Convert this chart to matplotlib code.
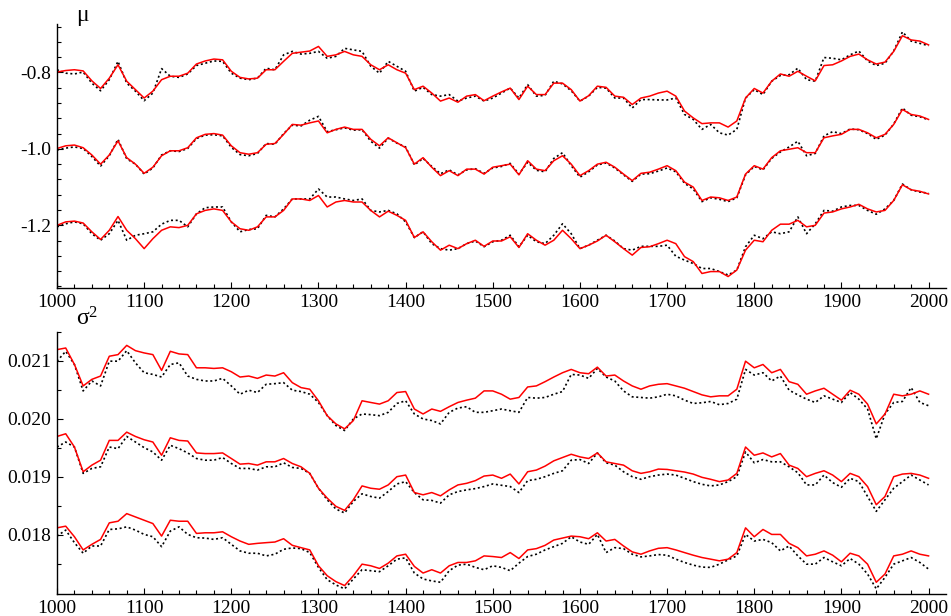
import numpy as np
import matplotlib
matplotlib.use("Agg")
import matplotlib.pyplot as plt
from matplotlib.ticker import MultipleLocator, FixedLocator, FormatStrFormatter

plt.rcParams['font.family'] = ['Liberation Serif', 'DejaVu Serif']
plt.rcParams['mathtext.fontset'] = 'custom'
plt.rcParams['mathtext.rm'] = 'Liberation Serif'
plt.rcParams['mathtext.it'] = 'Liberation Serif'
plt.rcParams['mathtext.default'] = 'regular'
plt.rcParams['axes.unicode_minus'] = False

# time index (every 10 steps)
t = list(range(1000, 2001, 10))

# mu estimates: red = solid estimate, black = dotted reference, three levels
mu_red_1 = [-0.799, -0.795, -0.793, -0.796, -0.822, -0.842, -0.815, -0.780, -0.823, -0.845,
            -0.867, -0.849, -0.819, -0.810, -0.810, -0.802, -0.778, -0.770, -0.765, -0.767,
            -0.797, -0.813, -0.817, -0.815, -0.793, -0.793, -0.771, -0.750, -0.747, -0.744,
            -0.732, -0.758, -0.754, -0.745, -0.754, -0.758, -0.780, -0.793, -0.780, -0.793,
            -0.802, -0.845, -0.836, -0.854, -0.875, -0.867, -0.878, -0.862, -0.858, -0.874,
            -0.862, -0.851, -0.841, -0.871, -0.836, -0.858, -0.858, -0.828, -0.828, -0.845,
            -0.875, -0.861, -0.836, -0.839, -0.862, -0.865, -0.884, -0.867, -0.862, -0.854,
            -0.849, -0.862, -0.901, -0.919, -0.934, -0.932, -0.932, -0.943, -0.927, -0.867,
            -0.842, -0.854, -0.823, -0.804, -0.810, -0.797, -0.810, -0.822, -0.782, -0.780,
            -0.770, -0.758, -0.752, -0.767, -0.778, -0.773, -0.745, -0.704, -0.715, -0.718,
            -0.728]
mu_black_1 = [-0.793, -0.802, -0.804, -0.799, -0.828, -0.848, -0.819, -0.771, -0.828, -0.849,
              -0.874, -0.854, -0.790, -0.810, -0.813, -0.804, -0.782, -0.776, -0.770, -0.771,
              -0.802, -0.815, -0.819, -0.815, -0.789, -0.793, -0.754, -0.745, -0.752, -0.750,
              -0.745, -0.763, -0.758, -0.737, -0.741, -0.745, -0.784, -0.802, -0.771, -0.784,
              -0.797, -0.849, -0.839, -0.858, -0.862, -0.858, -0.875, -0.867, -0.862, -0.875,
              -0.867, -0.854, -0.841, -0.867, -0.832, -0.862, -0.860, -0.823, -0.830, -0.848,
              -0.875, -0.862, -0.839, -0.841, -0.867, -0.867, -0.893, -0.871, -0.871, -0.872,
              -0.872, -0.867, -0.910, -0.923, -0.949, -0.936, -0.958, -0.964, -0.949, -0.867,
              -0.845, -0.858, -0.823, -0.808, -0.806, -0.789, -0.819, -0.823, -0.761, -0.763,
              -0.767, -0.754, -0.744, -0.770, -0.782, -0.776, -0.744, -0.694, -0.718, -0.724,
              -0.730]
mu_red_2 = [-0.999, -0.992, -0.990, -0.997, -1.016, -1.040, -1.016, -0.979, -1.023, -1.040,
            -1.064, -1.048, -1.018, -1.005, -1.005, -0.997, -0.971, -0.962, -0.960, -0.964,
            -0.992, -1.010, -1.014, -1.010, -0.988, -0.986, -0.962, -0.936, -0.938, -0.932,
            -0.927, -0.958, -0.949, -0.943, -0.949, -0.949, -0.975, -0.992, -0.971, -0.984,
            -0.997, -1.040, -1.023, -1.048, -1.070, -1.057, -1.070, -1.053, -1.053, -1.066,
            -1.048, -1.044, -1.040, -1.068, -1.031, -1.053, -1.057, -1.031, -1.018, -1.040,
            -1.070, -1.057, -1.040, -1.035, -1.048, -1.066, -1.083, -1.064, -1.061, -1.053,
            -1.044, -1.057, -1.087, -1.100, -1.135, -1.126, -1.128, -1.135, -1.126, -1.066,
            -1.044, -1.053, -1.023, -1.005, -1.001, -0.997, -1.010, -1.010, -0.971, -0.966,
            -0.962, -0.949, -0.949, -0.958, -0.971, -0.962, -0.936, -0.897, -0.910, -0.914,
            -0.923]
mu_black_2 = [-1.003, -0.998, -0.995, -0.999, -1.020, -1.045, -1.018, -0.975, -1.026, -1.040,
              -1.066, -1.050, -1.016, -1.005, -1.007, -0.999, -0.973, -0.964, -0.963, -0.966,
              -0.996, -1.015, -1.018, -1.012, -0.986, -0.988, -0.960, -0.938, -0.940, -0.925,
              -0.915, -0.955, -0.950, -0.945, -0.951, -0.950, -0.980, -0.998, -0.972, -0.985,
              -0.995, -1.042, -1.025, -1.046, -1.065, -1.055, -1.068, -1.055, -1.052, -1.064,
              -1.050, -1.046, -1.038, -1.066, -1.035, -1.056, -1.060, -1.025, -1.010, -1.044,
              -1.074, -1.060, -1.042, -1.037, -1.050, -1.068, -1.085, -1.066, -1.065, -1.058,
              -1.050, -1.060, -1.090, -1.105, -1.138, -1.128, -1.132, -1.138, -1.128, -1.068,
              -1.046, -1.055, -1.025, -1.008, -0.995, -0.980, -1.018, -1.012, -0.966, -0.955,
              -0.960, -0.948, -0.950, -0.960, -0.975, -0.964, -0.935, -0.893, -0.912, -0.916,
              -0.924]
mu_red_3 = [-1.200, -1.191, -1.189, -1.194, -1.217, -1.237, -1.213, -1.177, -1.213, -1.235,
            -1.261, -1.235, -1.213, -1.204, -1.206, -1.200, -1.170, -1.161, -1.157, -1.161,
            -1.191, -1.209, -1.213, -1.204, -1.178, -1.178, -1.161, -1.131, -1.131, -1.135,
            -1.122, -1.152, -1.139, -1.135, -1.139, -1.139, -1.161, -1.178, -1.163, -1.174,
            -1.187, -1.232, -1.217, -1.243, -1.265, -1.252, -1.261, -1.248, -1.239, -1.255,
            -1.241, -1.241, -1.230, -1.258, -1.222, -1.239, -1.252, -1.239, -1.213, -1.235,
            -1.261, -1.252, -1.241, -1.226, -1.243, -1.261, -1.278, -1.258, -1.256, -1.248,
            -1.239, -1.248, -1.282, -1.295, -1.326, -1.321, -1.321, -1.334, -1.317, -1.265,
            -1.239, -1.243, -1.213, -1.197, -1.197, -1.187, -1.204, -1.200, -1.168, -1.165,
            -1.157, -1.152, -1.145, -1.157, -1.165, -1.161, -1.135, -1.094, -1.107, -1.111,
            -1.118]
mu_black_3 = [-1.204, -1.196, -1.191, -1.196, -1.222, -1.239, -1.222, -1.187, -1.239, -1.226,
              -1.222, -1.217, -1.197, -1.187, -1.187, -1.204, -1.170, -1.154, -1.152, -1.152,
              -1.191, -1.217, -1.211, -1.209, -1.174, -1.178, -1.157, -1.131, -1.131, -1.131,
              -1.105, -1.126, -1.126, -1.131, -1.135, -1.131, -1.161, -1.165, -1.161, -1.170,
              -1.191, -1.232, -1.217, -1.248, -1.261, -1.265, -1.261, -1.248, -1.241, -1.256,
              -1.243, -1.239, -1.226, -1.256, -1.226, -1.243, -1.248, -1.226, -1.196, -1.222,
              -1.261, -1.252, -1.239, -1.226, -1.241, -1.261, -1.265, -1.255, -1.255, -1.255,
              -1.252, -1.281, -1.291, -1.300, -1.313, -1.313, -1.321, -1.330, -1.317, -1.256,
              -1.226, -1.235, -1.217, -1.222, -1.217, -1.178, -1.222, -1.196, -1.161, -1.163,
              -1.152, -1.148, -1.148, -1.161, -1.171, -1.157, -1.135, -1.092, -1.107, -1.113,
              -1.116]

# sigma^2 estimates, in units of 1e-3
s2_red_1 = [21.188, 21.216, 20.932, 20.563, 20.676, 20.733, 21.074, 21.102, 21.261, 21.170,
            21.131, 21.102, 20.830, 21.159, 21.114, 21.102, 20.875, 20.875, 20.864, 20.875,
            20.807, 20.716, 20.733, 20.693, 20.750, 20.733, 20.790, 20.619, 20.534, 20.506,
            20.307, 20.051, 19.909, 19.824, 19.966, 20.307, 20.278, 20.250, 20.307, 20.449,
            20.466, 20.165, 20.080, 20.165, 20.125, 20.205, 20.278, 20.318, 20.352, 20.477,
            20.477, 20.420, 20.335, 20.364, 20.545, 20.563, 20.636, 20.716, 20.790, 20.847,
            20.790, 20.773, 20.886, 20.733, 20.750, 20.648, 20.563, 20.506, 20.563, 20.591,
            20.602, 20.563, 20.523, 20.466, 20.409, 20.375, 20.392, 20.392, 20.506, 20.989,
            20.875, 20.932, 20.790, 20.847, 20.636, 20.591, 20.420, 20.477, 20.523, 20.420,
            20.318, 20.489, 20.420, 20.250, 19.909, 20.080, 20.420, 20.392, 20.420, 20.477,
            20.420]
s2_black_1 = [20.989, 21.159, 20.932, 20.477, 20.648, 20.563, 20.989, 20.989, 21.170, 20.960,
              20.790, 20.761, 20.716, 20.932, 20.960, 20.733, 20.676, 20.648, 20.648, 20.693,
              20.563, 20.420, 20.489, 20.449, 20.591, 20.602, 20.619, 20.489, 20.466, 20.420,
              20.278, 20.051, 19.881, 19.795, 19.994, 20.080, 20.068, 20.051, 20.108, 20.261,
              20.307, 20.080, 19.994, 19.966, 19.909, 20.108, 20.182, 20.205, 20.108, 20.108,
              20.136, 20.165, 20.136, 20.108, 20.364, 20.352, 20.364, 20.420, 20.466, 20.761,
              20.750, 20.693, 20.864, 20.716, 20.648, 20.477, 20.375, 20.364, 20.352, 20.375,
              20.420, 20.392, 20.318, 20.261, 20.273, 20.295, 20.239, 20.261, 20.335, 20.847,
              20.750, 20.790, 20.648, 20.733, 20.489, 20.409, 20.335, 20.278, 20.392, 20.335,
              20.278, 20.449, 20.335, 20.165, 19.653, 20.080, 20.278, 20.295, 20.534, 20.278,
              20.222]
s2_red_2 = [19.693, 19.739, 19.511, 19.085, 19.199, 19.284, 19.625, 19.625, 19.767, 19.693,
            19.636, 19.597, 19.369, 19.670, 19.625, 19.614, 19.409, 19.398, 19.398, 19.409,
            19.313, 19.216, 19.227, 19.199, 19.256, 19.256, 19.313, 19.227, 19.170, 19.057,
            18.801, 18.631, 18.489, 18.420, 18.602, 18.841, 18.801, 18.784, 18.858, 19.000,
            19.028, 18.727, 18.688, 18.727, 18.670, 18.773, 18.858, 18.886, 18.932, 19.011,
            19.028, 18.972, 19.045, 18.875, 19.085, 19.114, 19.182, 19.273, 19.330, 19.386,
            19.341, 19.313, 19.409, 19.256, 19.227, 19.199, 19.102, 19.057, 19.085, 19.131,
            19.125, 19.102, 19.080, 19.045, 18.989, 18.955, 18.915, 18.943, 19.057, 19.511,
            19.369, 19.409, 19.341, 19.398, 19.199, 19.142, 19.000, 19.057, 19.102, 19.028,
            18.915, 19.057, 19.000, 18.830, 18.517, 18.659, 19.000, 19.045, 19.057, 19.028,
            18.972]
s2_black_2 = [19.511, 19.597, 19.511, 19.057, 19.142, 19.170, 19.511, 19.483, 19.693, 19.597,
              19.500, 19.426, 19.284, 19.540, 19.483, 19.409, 19.313, 19.284, 19.284, 19.330,
              19.227, 19.142, 19.142, 19.114, 19.170, 19.170, 19.239, 19.159, 19.142, 19.057,
              18.801, 18.602, 18.443, 18.375, 18.574, 18.705, 18.659, 18.631, 18.744, 18.875,
              18.915, 18.727, 18.602, 18.591, 18.545, 18.688, 18.744, 18.773, 18.795, 18.830,
              18.875, 18.852, 18.830, 18.727, 18.932, 18.955, 19.000, 19.057, 19.102, 19.284,
              19.295, 19.227, 19.409, 19.239, 19.199, 19.085, 19.000, 18.955, 19.000, 19.028,
              19.045, 19.028, 18.972, 18.915, 18.869, 18.841, 18.858, 18.915, 19.000, 19.426,
              19.239, 19.295, 19.256, 19.256, 19.170, 19.068, 18.858, 18.858, 19.028, 18.898,
              18.818, 18.972, 18.915, 18.659, 18.403, 18.602, 18.801, 18.915, 19.028, 18.943,
              18.858]
s2_red_3 = [18.119, 18.148, 17.966, 17.739, 17.835, 17.920, 18.205, 18.233, 18.364, 18.307,
            18.250, 18.193, 17.977, 18.250, 18.233, 18.233, 18.023, 18.034, 18.034, 18.051,
            17.966, 17.892, 17.835, 17.852, 17.864, 17.875, 17.932, 17.818, 17.778, 17.739,
            17.466, 17.295, 17.193, 17.125, 17.295, 17.494, 17.466, 17.420, 17.511, 17.636,
            17.665, 17.455, 17.341, 17.398, 17.341, 17.466, 17.523, 17.523, 17.551, 17.636,
            17.625, 17.608, 17.693, 17.591, 17.739, 17.761, 17.818, 17.909, 17.943, 17.977,
            17.966, 17.932, 18.034, 17.892, 17.920, 17.807, 17.705, 17.665, 17.722, 17.767,
            17.778, 17.739, 17.693, 17.648, 17.608, 17.580, 17.551, 17.580, 17.693, 18.119,
            17.966, 18.091, 18.006, 18.006, 17.852, 17.778, 17.636, 17.665, 17.722, 17.648,
            17.534, 17.682, 17.636, 17.494, 17.182, 17.324, 17.636, 17.665, 17.722, 17.665,
            17.636]
s2_black_3 = [17.977, 18.080, 17.864, 17.682, 17.807, 17.807, 18.091, 18.102, 18.136, 18.080,
              18.006, 17.966, 17.795, 18.063, 18.136, 18.006, 17.949, 17.943, 17.920, 17.949,
              17.835, 17.722, 17.682, 17.682, 17.636, 17.665, 17.750, 17.773, 17.761, 17.693,
              17.438, 17.227, 17.136, 17.068, 17.239, 17.398, 17.381, 17.364, 17.466, 17.580,
              17.602, 17.341, 17.239, 17.205, 17.182, 17.381, 17.477, 17.494, 17.438, 17.398,
              17.466, 17.438, 17.381, 17.511, 17.625, 17.665, 17.739, 17.795, 17.852, 17.966,
              17.875, 17.835, 18.006, 17.693, 17.778, 17.761, 17.665, 17.619, 17.636, 17.659,
              17.648, 17.580, 17.523, 17.477, 17.443, 17.438, 17.494, 17.568, 17.636, 18.006,
              17.892, 17.920, 17.864, 17.722, 17.807, 17.636, 17.494, 17.494, 17.608, 17.534,
              17.466, 17.591, 17.494, 17.324, 17.068, 17.267, 17.494, 17.551, 17.608, 17.523,
              17.409]

mu_pairs = [(mu_black_1, mu_red_1), (mu_black_2, mu_red_2), (mu_black_3, mu_red_3)]
s2_pairs = [(s2_black_1, s2_red_1), (s2_black_2, s2_red_2), (s2_black_3, s2_red_3)]

fig = plt.figure(figsize=(9.51, 6.16), dpi=100)
W, H = 951.0, 616.0
ax1 = fig.add_axes([57 / W, 1 - 288 / H, 889 / W, 264.5 / H])
ax2 = fig.add_axes([57 / W, 1 - 594 / H, 889 / W, 262.5 / H])

dotted = (0, (1.2, 1.6))
for k, r in mu_pairs:
    ax1.plot(t, k, color='black', lw=1.2, linestyle=dotted)
    ax1.plot(t, r, color='red', lw=1.1)
for k, r in s2_pairs:
    ax2.plot(t, np.array(k) * 1e-3, color='black', lw=1.2, linestyle=dotted)
    ax2.plot(t, np.array(r) * 1e-3, color='red', lw=1.1)

ax1.set_ylim(-1.364, -0.672)
ax2.set_ylim(0.01698, 0.02150)

for ax in (ax1, ax2):
    ax.set_xlim(1000, 2020)
    ax.spines['top'].set_visible(False)
    ax.spines['right'].set_visible(False)
    ax.spines['left'].set_linewidth(1.0)
    ax.spines['bottom'].set_linewidth(1.0)
    ax.xaxis.set_major_locator(FixedLocator(range(1000, 2001, 100)))
    ax.xaxis.set_minor_locator(FixedLocator(range(1000, 2001, 20)))
    ax.tick_params(which='major', direction='in', length=4.5, width=0.8,
                   labelsize=14, pad=4)
    ax.tick_params(which='minor', direction='in', length=2.8, width=0.8)

ax1.yaxis.set_major_locator(MultipleLocator(0.2))
ax1.yaxis.set_minor_locator(MultipleLocator(0.04))
ax1.yaxis.set_major_formatter(FormatStrFormatter('%.1f'))

ax2.yaxis.set_major_locator(FixedLocator([0.018, 0.019, 0.020, 0.021]))
ax2.yaxis.set_minor_locator(FixedLocator([0.0175, 0.0185, 0.0195, 0.0205, 0.0215]))
ax2.yaxis.set_major_formatter(FormatStrFormatter('%.3f'))

fig.text(82 / W, 1 - 15 / H, 'μ', fontsize=17, ha='center', va='center')
fig.text(87 / W, 1 - 319 / H, r'$σ^2$', fontsize=17, ha='center', va='center')

fig.savefig('out.png', dpi=100)
